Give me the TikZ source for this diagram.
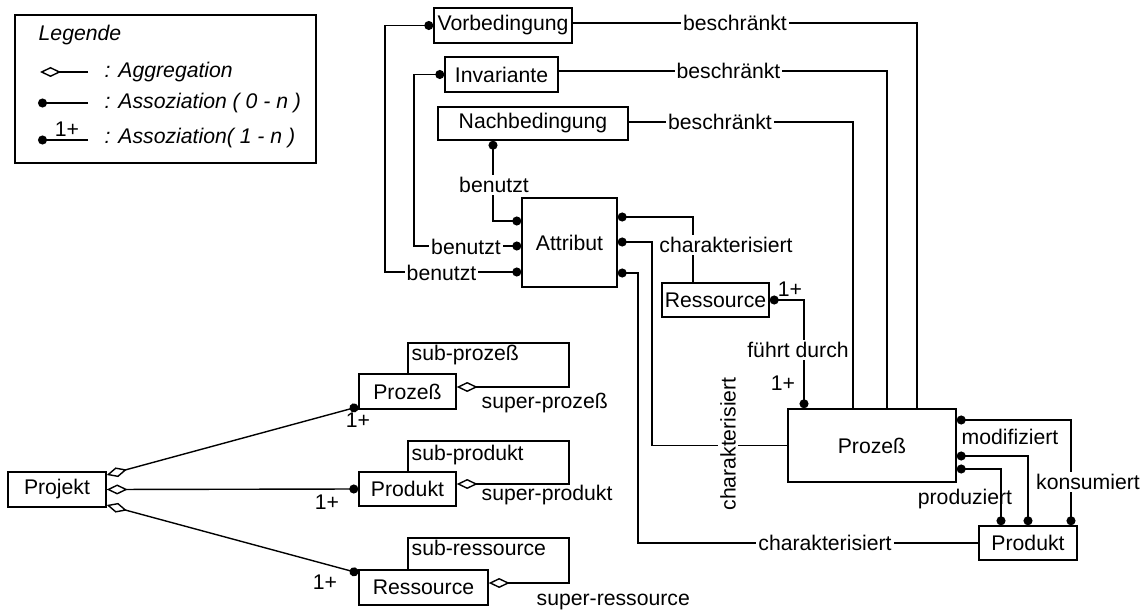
\documentclass[tikz,border=0pt]{standalone}
\usepackage{fontspec}
\setmainfont{Liberation Sans}
\usetikzlibrary{arrows.meta}

\tikzset{
	kreis/.tip={Circle[length=9pt]},
	raute/.tip={Diamond[open,length=21pt,width=10pt]},
}

\begin{document}
\begin{tikzpicture}[x=1pt, y=-1pt, line width=1.4pt,
	font=\fontsize{21.2}{25}\selectfont,
	klasse/.style={rectangle, draw, inner sep=0pt, text centered},
	beschr/.style={fill=white, inner sep=2pt},
	txt/.style={inner sep=0pt}]
	
	\useasboundingbox (0,0) rectangle (1145,612);
	
	%Legende
	\node (legende) at (165.5,89) [rectangle, draw, minimum width=301pt, minimum height=148pt] {};
	\node[txt, anchor=west] (legTitel) at (38,35) {\itshape Legende};
	\node[txt, anchor=west] (legAgg) at (104,72) {\itshape : Aggregation};
	\node[txt, anchor=west] (legAss) at (104,103) {\itshape : Assoziation ( 0 - n )};
	\node[txt, anchor=west] (legAssEins) at (104,138) {\itshape : Assoziation( 1 - n )};
	\node[txt] (legEins) at (67,129) {1+};
	\draw[-raute] (88,72) -- (40,72);
	\draw[-kreis] (88,103) -- (38,103);
	\draw[-kreis] (88,140) -- (38,140);
	
	%Blocks
	\node (vorbed) at (503,25.5) [klasse, minimum width=138pt, minimum height=35pt] {Vorbedingung};
	\node (invar) at (501.5,74.5) [klasse, minimum width=113pt, minimum height=35pt] {Invariante};
	\node (nachbed) at (533,123.5) [klasse, minimum width=190pt, minimum height=33pt] {Nachbedingung};
	\node (attribut) at (569.5,242.5) [klasse, minimum width=95pt, minimum height=89pt] {Attribut};
	\node (ressource) at (715.5,300) [klasse, minimum width=107pt, minimum height=34pt] {Ressource};
	\node (prozess) at (872,445.5) [klasse, minimum width=168pt, minimum height=73pt] {Prozeß};
	\node (produkt) at (1028,543) [klasse, minimum width=98pt, minimum height=34pt] {Produkt};
	\node (projekt) at (57,489.5) [klasse, minimum width=98pt, minimum height=35pt] {Projekt};
	\node (subProzess) at (407.5,391.5) [klasse, minimum width=97pt, minimum height=35pt] {Prozeß};
	\node (subProdukt) at (407.5,489) [klasse, minimum width=97pt, minimum height=34pt] {Produkt};
	\node (subRessource) at (423.5,587.5) [klasse, minimum width=129pt, minimum height=35pt] {Ressource};
	
	%Links
	\draw[kreis-kreis] (vorbed.west) -- (385,25.5) |- (attribut.west |- 0,272);
	\draw[kreis-kreis] (invar.west) -- (414,74.5) |- (attribut.west |- 0,246);
	\draw[kreis-kreis] (nachbed.south -| 493,0) |- (attribut.west |- 0,221);
	\draw (vorbed.east |- 0,23) -| (prozess.north -| 917,0);
	\draw (invar.east |- 0,71) -| (prozess.north -| 887,0);
	\draw (nachbed.east |- 0,122) -| (prozess.north -| 853,0);
	\draw[kreis-] (attribut.east |- 0,217) -| (ressource.north -| 693,0);
	\draw[kreis-] (attribut.east |- 0,242) -- (652,242) |- (prozess.west);
	\draw[kreis-] (attribut.east |- 0,273) -- (638,273) |- (produkt.west);
	\draw[kreis-kreis] (ressource.east) -| (prozess.north -| 804,0);
	\draw[kreis-kreis] (prozess.east |- 0,420) -| (produkt.north -| 1071,0);
	\draw[kreis-kreis] (prozess.east |- 0,456) -| (produkt.north -| 1028,0);
	\draw[kreis-kreis] (prozess.east |- 0,469) -| (produkt.north -| 1001,0);
	\draw[raute-kreis] (projekt.east |- 0,475) -- ([yshift=3pt]subProzess.south west);
	\draw[raute-kreis] (projekt.east) -- (subProdukt.west);
	\draw[raute-kreis] (projekt.east |- 0,505) -- (subRessource.west |- 0,573);
	\draw[raute-] (subProzess.east |- 0,387) -- (569,387) -- (569,343) -| (subProzess.north -| 408,0);
	\draw[raute-] (subProdukt.east |- 0,484) -- (569,484) -- (569,441) -| (subProdukt.north -| 408,0);
	\draw[raute-] (subRessource.east |- 0,583) -- (569,583) -- (569,538) -| (subRessource.north -| 408,0);
	
	%Labels
	\node[beschr] (beschr1) at (735,23) {beschränkt};
	\node[beschr] (beschr2) at (728.5,71) {beschränkt};
	\node[beschr] (beschr3) at (720,122) {beschränkt};
	\node[beschr] (benutzt1) at (494,185) {benutzt};
	\node[beschr] (benutzt2) at (466,247) {benutzt};
	\node[beschr] (benutzt3) at (441.5,273) {benutzt};
	\node[beschr] (char1) at (726,245) {charakterisiert};
	\node[beschr, rotate=90] (char2) at (728,444) {charakterisiert};
	\node[beschr] (char3) at (825,543) {charakterisiert};
	\node[beschr] (fuehrt) at (798,350) {führt durch};
	\node[txt] (eins1) at (790,289) {1+};
	\node[txt] (eins2) at (783,383) {1+};
	\node[txt] (modif) at (1010,437) {modifiziert};
	\node[beschr] (konsum) at (1088,482) {konsumiert};
	\node[txt] (produz) at (965,499) {produziert};
	\node[txt] (eins3) at (358,420) {1+};
	\node[txt] (eins4) at (327,502) {1+};
	\node[txt] (eins5) at (325,582) {1+};
	\node[txt, anchor=west] (subProzL) at (411,355) {sub-prozeß};
	\node[txt, anchor=west] (superProzL) at (481,403) {super-prozeß};
	\node[txt, anchor=west] (subProdL) at (411,455) {sub-produkt};
	\node[txt, anchor=west] (superProdL) at (481,495) {super-produkt};
	\node[txt, anchor=west] (subResL) at (411,548) {sub-ressource};
	\node[txt, anchor=west] (superResL) at (536,602) {super-ressource};
	
\end{tikzpicture}
\end{document}
